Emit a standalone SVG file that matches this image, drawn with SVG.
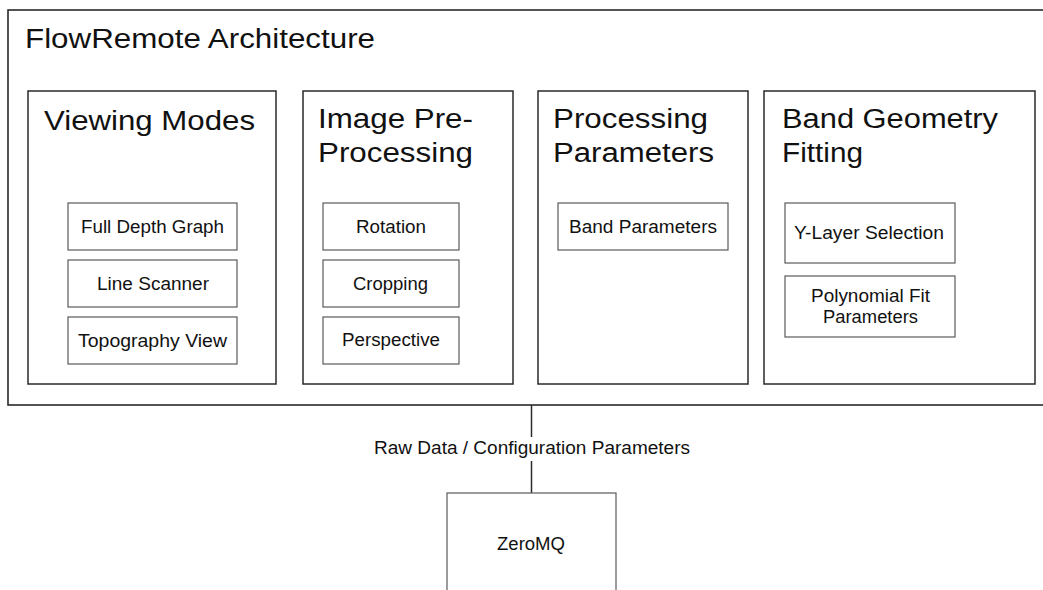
<svg xmlns="http://www.w3.org/2000/svg" width="1043" height="590" viewBox="0 0 1043 590">
  <style>
    .frame { fill: #ffffff; stroke: #2a2a2a; stroke-width: 1.6; }
    .group { fill: #ffffff; stroke: #2a2a2a; stroke-width: 1.5; }
    .item { fill: #ffffff; stroke: #5a5a5a; stroke-width: 1.2; }
    .conn { fill: none; stroke: #2a2a2a; stroke-width: 1.5; }
    text { font-family: "Liberation Sans", Arial, sans-serif; fill: #111111; }
    .t-title { font-size: 27px; }
    .t-group { font-size: 27px; }
    .t-item { font-size: 17.5px; text-anchor: middle; }
    .t-label { font-size: 17.5px; text-anchor: middle; }
  </style>

  <rect width="1043" height="590" fill="#ffffff"/>

  <!-- Application frame -->
  <g id="flowremote">
    <rect class="frame" x="8" y="10" width="1060" height="395"/>
    <text class="t-title" x="25" y="48" textLength="350" lengthAdjust="spacingAndGlyphs">FlowRemote Architecture</text>
  </g>

  <!-- Viewing modes -->
  <g id="viewing-modes">
    <rect class="group" x="28" y="91" width="248" height="293"/>
    <text class="t-group" x="44" y="130" textLength="211" lengthAdjust="spacingAndGlyphs">Viewing Modes</text>
  </g>
  <g id="full-depth-graph">
    <rect class="item" x="68" y="203" width="169" height="47"/>
    <text class="t-item" x="152.5" y="233" textLength="143" lengthAdjust="spacingAndGlyphs">Full Depth Graph</text>
  </g>
  <g id="line-scanner">
    <rect class="item" x="68" y="260" width="169" height="47"/>
    <text class="t-item" x="153" y="290" textLength="112" lengthAdjust="spacingAndGlyphs">Line Scanner</text>
  </g>
  <g id="topography-view">
    <rect class="item" x="68" y="317" width="169" height="47"/>
    <text class="t-item" x="152.5" y="347" textLength="149" lengthAdjust="spacingAndGlyphs">Topography View</text>
  </g>

  <!-- Image pre-processing -->
  <g id="image-preprocessing">
    <rect class="group" x="303" y="91" width="210" height="293"/>
    <text class="t-group" x="318" y="128" textLength="155" lengthAdjust="spacingAndGlyphs">Image Pre-</text>
    <text class="t-group" x="318" y="162" textLength="155" lengthAdjust="spacingAndGlyphs">Processing</text>
  </g>
  <g id="rotation">
    <rect class="item" x="323" y="203" width="136" height="47"/>
    <text class="t-item" x="391" y="233" textLength="70" lengthAdjust="spacingAndGlyphs">Rotation</text>
  </g>
  <g id="cropping">
    <rect class="item" x="323" y="260" width="136" height="47"/>
    <text class="t-item" x="390.5" y="290" textLength="75" lengthAdjust="spacingAndGlyphs">Cropping</text>
  </g>
  <g id="perspective">
    <rect class="item" x="323" y="317" width="136" height="47"/>
    <text class="t-item" x="391" y="346" textLength="98" lengthAdjust="spacingAndGlyphs">Perspective</text>
  </g>

  <!-- Processing parameters -->
  <g id="processing-parameters">
    <rect class="group" x="538" y="91" width="210" height="293"/>
    <text class="t-group" x="553" y="128" textLength="155" lengthAdjust="spacingAndGlyphs">Processing</text>
    <text class="t-group" x="553" y="162" textLength="161" lengthAdjust="spacingAndGlyphs">Parameters</text>
  </g>
  <g id="band-parameters">
    <rect class="item" x="558" y="203" width="170" height="47"/>
    <text class="t-item" x="643" y="233" textLength="148" lengthAdjust="spacingAndGlyphs">Band Parameters</text>
  </g>

  <!-- Band geometry fitting -->
  <g id="band-geometry-fitting">
    <rect class="group" x="764" y="91" width="271" height="293"/>
    <text class="t-group" x="782" y="128" textLength="216" lengthAdjust="spacingAndGlyphs">Band Geometry</text>
    <text class="t-group" x="782" y="162" textLength="81" lengthAdjust="spacingAndGlyphs">Fitting</text>
  </g>
  <g id="y-layer-selection">
    <rect class="item" x="785" y="203" width="170" height="60"/>
    <text class="t-item" x="869" y="239" textLength="150" lengthAdjust="spacingAndGlyphs">Y-Layer Selection</text>
  </g>
  <g id="polynomial-fit-parameters">
    <rect class="item" x="785" y="276" width="170" height="61"/>
    <text class="t-item" x="870.5" y="302" textLength="119" lengthAdjust="spacingAndGlyphs">Polynomial Fit</text>
    <text class="t-item" x="870.5" y="323" textLength="95" lengthAdjust="spacingAndGlyphs">Parameters</text>
  </g>

  <!-- Link between the application and the message bus -->
  <g id="connectors">
    <line class="conn" x1="531.5" y1="405" x2="531.5" y2="437"/>
    <line class="conn" x1="531.5" y1="461" x2="531.5" y2="493"/>
    <text class="t-label" x="532" y="454" textLength="316" lengthAdjust="spacingAndGlyphs">Raw Data / Configuration Parameters</text>
  </g>

  <!-- Message bus -->
  <g id="zeromq">
    <rect class="item" x="447" y="493" width="169" height="110"/>
    <text class="t-item" x="531" y="550" textLength="68" lengthAdjust="spacingAndGlyphs">ZeroMQ</text>
  </g>
</svg>
